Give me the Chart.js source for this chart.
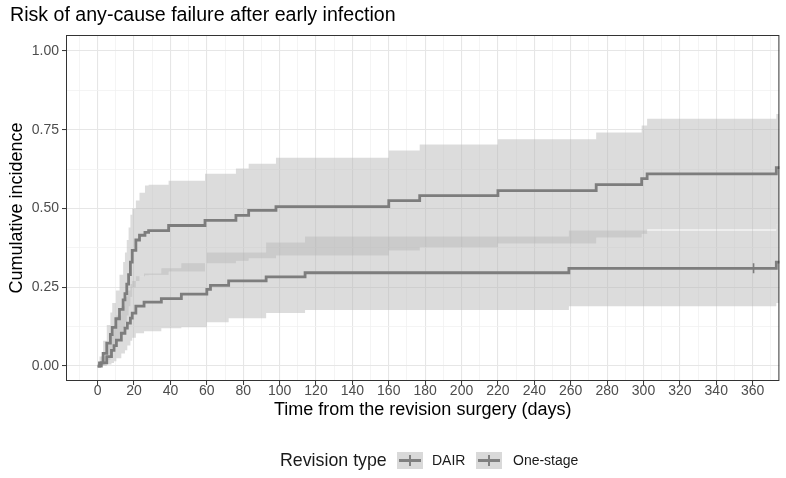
<!DOCTYPE html>
<html>
<head>
<meta charset="utf-8">
<script src="https://cdn.jsdelivr.net/npm/chart.js@4"></script>
<style>
  html, body { margin: 0; padding: 0; background: #fff; }
  #wrap { position: relative; width: 786px; height: 478px; font-family: "Liberation Sans", Arial, sans-serif; }
  #title { position: absolute; left: 10px; top: 3px; font-size: 19.6px; line-height: 22px; color: #000; white-space: nowrap; }
  #legend { position: absolute; left: 0; top: 452px; width: 786px; height: 24px; }
  .lg { position: absolute; white-space: nowrap; color: #1a1a1a; }
  .key { position: absolute; top: 0px; width: 26px; height: 17px; background: #d9d9d9; }
  .key .h { position: absolute; left: 2px; right: 2px; top: 7px; height: 3px; background: #808080; }
  .key .v { position: absolute; left: 12px; top: 3px; width: 2px; height: 11px; background: #808080; }
</style>
</head>
<body>
<div id="wrap">
  <canvas id="c" width="786" height="478"></canvas>
  <div id="title">Risk of any-cause failure after early infection</div>
  <div id="legend">
    <span class="lg" style="left:280px; top:-2px; font-size:17.8px; line-height:21px;">Revision type</span>
    <div class="key" style="left:397px;"><div class="h"></div><div class="v"></div></div>
    <span class="lg" style="left:432px; top:0px; font-size:14px; line-height:17px;">DAIR</span>
    <div class="key" style="left:476px;"><div class="h"></div><div class="v"></div></div>
    <span class="lg" style="left:513px; top:0px; font-size:14px; line-height:17px;">One-stage</span>
  </div>
</div>
<script>
// ---- Data ----
const seriesNames = ["DAIR", "One-stage"];

// DAIR: step times (days), cumulative incidence, 95% CI bounds
const dairTimes = [0, 1, 3, 5, 7, 8, 10, 12, 14, 15, 16, 17, 18, 19, 21, 23, 26, 28, 39, 59, 76, 83, 98, 160, 177, 220, 274, 299, 302, 373, 375];
const dairEst   = [0, 0.01, 0.04, 0.073, 0.10, 0.123, 0.15, 0.18, 0.21, 0.23, 0.26, 0.29, 0.33, 0.367, 0.40, 0.415, 0.424, 0.43, 0.446, 0.462, 0.478, 0.494, 0.506, 0.525, 0.541, 0.557, 0.576, 0.595, 0.61, 0.63, 0.63];
const dairUpper = [0, 0.03, 0.08, 0.13, 0.17, 0.20, 0.24, 0.29, 0.33, 0.36, 0.40, 0.44, 0.48, 0.50, 0.525, 0.55, 0.573, 0.575, 0.588, 0.61, 0.627, 0.642, 0.661, 0.684, 0.703, 0.72, 0.741, 0.763, 0.785, 0.80, 0.80];
const dairLower = [0, 0, 0.01, 0.02, 0.04, 0.06, 0.08, 0.10, 0.12, 0.14, 0.16, 0.19, 0.22, 0.25, 0.27, 0.285, 0.288, 0.29, 0.30, 0.326, 0.334, 0.342, 0.351, 0.367, 0.377, 0.389, 0.408, 0.42, 0.433, 0.45, 0.45];

// One-stage
const oneTimes = [0, 2, 5, 7.6, 9, 10.3, 13, 15, 16.3, 18, 19, 21, 25.5, 35, 46, 60, 62, 72, 92.6, 114, 259, 373, 375];
const oneEst   = [0, 0.01, 0.03, 0.05, 0.065, 0.082, 0.104, 0.12, 0.136, 0.152, 0.168, 0.19, 0.203, 0.214, 0.228, 0.243, 0.256, 0.27, 0.283, 0.296, 0.31, 0.33, 0.33];
const oneUpper = [0, 0.03, 0.07, 0.10, 0.13, 0.16, 0.19, 0.22, 0.24, 0.26, 0.27, 0.285, 0.294, 0.31, 0.326, 0.36, 0.36, 0.36, 0.392, 0.411, 0.43, 0.45, 0.45];
const oneLower = [0, 0, 0.005, 0.01, 0.015, 0.025, 0.04, 0.05, 0.065, 0.08, 0.09, 0.104, 0.11, 0.12, 0.123, 0.139, 0.139, 0.152, 0.168, 0.178, 0.19, 0.20, 0.20];

// Censoring marks
const censorTimes  = [360.5];
const censorValues = [0.31];

// Axis ticks
const xMajorTicks = [0, 20, 40, 60, 80, 100, 120, 140, 160, 180, 200, 220, 240, 260, 280, 300, 320, 340, 360];
const yMajorTicks = [0, 0.25, 0.5, 0.75, 1];

// ---- Build ----
const pts = (xs, ys) => xs.map((x, i) => ({x: x, y: ys[i]}));
const lineCol = '#7d7d7d';
const bandCol = 'rgba(183,183,183,0.49)';
const font = "'Liberation Sans', Arial, sans-serif";

const xAll = []; for (let v = -10; v <= 370; v += 10) xAll.push(v);
const yAll = []; for (let v = 0; v <= 1.0001; v += 0.125) yAll.push(Math.round(v * 1000) / 1000);
const isXMajor = v => xMajorTicks.includes(v);
const isYMajor = v => yMajorTicks.some(t => Math.abs(t - v) < 1e-6);

const borderPlugin = {
  id: 'panelBorder',
  afterDatasetsDraw(chart) {
    const a = chart.chartArea, ctx = chart.ctx;
    ctx.save();
    ctx.strokeStyle = '#333333';
    ctx.lineWidth = 1;
    ctx.strokeRect(a.left + 0.5, a.top + 0.5, a.right - a.left - 1, a.bottom - a.top - 1);
    ctx.restore();
  }
};

const lineDs = (label, data) => ({
  label, data, stepped: 'before', borderColor: lineCol, borderWidth: 2.8,
  pointRadius: 0, fill: false, borderJoinStyle: 'miter', borderCapStyle: 'butt'
});
const bandDs = (label, data, fill) => ({
  label, data, stepped: 'before', borderWidth: 0, borderColor: 'rgba(0,0,0,0)',
  pointRadius: 0, fill: fill, backgroundColor: bandCol
});

new Chart(document.getElementById('c'), {
  type: 'line',
  data: {
    datasets: [
      lineDs(seriesNames[0], pts(dairTimes, dairEst)),
      lineDs(seriesNames[1], pts(oneTimes, oneEst)),
      { label: 'censor', data: pts(censorTimes, censorValues), showLine: false,
        pointStyle: 'line', rotation: 90, pointRadius: 5, borderColor: lineCol, borderWidth: 1.6 },
      bandDs('DAIR upper', pts(dairTimes, dairUpper), false),
      bandDs('DAIR lower', pts(dairTimes, dairLower), 3),
      bandDs('One-stage upper', pts(oneTimes, oneUpper), false),
      bandDs('One-stage lower', pts(oneTimes, oneLower), 5)
    ]
  },
  options: {
    responsive: false,
    animation: false,
    events: [],
    layout: { padding: { left: 0, right: 0, top: 35, bottom: 55 } },
    plugins: {
      legend: { display: false },
      tooltip: { enabled: false },
      title: { display: false }
    },
    scales: {
      x: {
        type: 'linear', min: -17.4, max: 374.7,
        afterBuildTicks: s => { s.ticks = xAll.map(v => ({value: v})); },
        afterFit: s => { s.height = 42; },
        ticks: {
          autoSkip: false, maxRotation: 0, padding: -2,
          color: '#4d4d4d', font: { family: font, size: 14 },
          callback: v => isXMajor(v) ? String(v) : ''
        },
        grid: {
          color: c => isXMajor(c.tick.value) ? '#e6e6e6' : '#f1f1f1',
          lineWidth: c => isXMajor(c.tick.value) ? 1.1 : 0.8,
          tickColor: c => isXMajor(c.tick.value) ? '#333333' : 'rgba(0,0,0,0)',
          tickLength: 4, tickWidth: 1
        },
        border: { display: false },
        title: {
          display: true, text: 'Time from the revision surgery (days)', color: '#000',
          font: { family: font, size: 18 }, padding: { top: 0, bottom: 2 }
        }
      },
      y: {
        type: 'linear', min: -0.0475, max: 1.0506,
        afterBuildTicks: s => { s.ticks = yAll.map(v => ({value: v})); },
        afterFit: s => { s.width = 66; },
        ticks: {
          autoSkip: false, padding: 3,
          color: '#4d4d4d', font: { family: font, size: 14 },
          callback: v => isYMajor(v) ? v.toFixed(2) : ''
        },
        grid: {
          color: c => isYMajor(c.tick.value) ? '#e6e6e6' : '#f1f1f1',
          lineWidth: c => isYMajor(c.tick.value) ? 1.1 : 0.8,
          tickColor: c => isYMajor(c.tick.value) ? '#333333' : 'rgba(0,0,0,0)',
          tickLength: 4, tickWidth: 1
        },
        border: { display: false },
        title: {
          display: true, text: 'Cumulative incidence', color: '#000',
          font: { family: font, size: 18 }, padding: { top: 6, bottom: 0 }
        }
      }
    }
  },
  plugins: [borderPlugin]
});
</script>
</body>
</html>
